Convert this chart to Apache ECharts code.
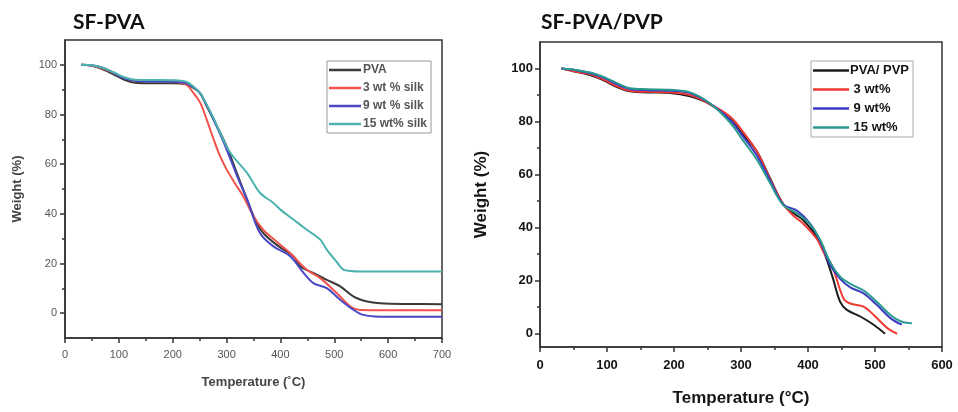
<!DOCTYPE html>
<html>
<head>
<meta charset="utf-8">
<script src="https://cdn.jsdelivr.net/npm/echarts@6/dist/echarts.min.js"></script>
<style>
  html, body { margin: 0; padding: 0; background: #fff; }
  #chart { width: 958px; height: 412px; }
</style>
</head>
<body>
<div id="chart"></div>
<script>
// ---- SF-PVA panel: TGA curves (temperature in °C, weight in %) ----
const pvaTemp   = [30, 50, 70, 90, 110, 130, 160, 200, 225, 240, 251, 263, 282, 300, 319, 338, 356, 368, 393, 424, 437, 461, 486, 511, 536, 561, 585, 640, 700];
const pvaWeight = [100, 99.6, 98.2, 96.2, 94, 92.8, 92.6, 92.6, 92.2, 90.5, 88.5, 83.4, 75.4, 67.3, 56.5, 45.8, 36.3, 32.3, 27.5, 22.9, 18.8, 16.2, 13.4, 10.8, 6.7, 4.7, 4, 3.7, 3.6];

const silk3Temp   = [30, 50, 70, 90, 110, 130, 160, 200, 225, 238, 251, 263, 276, 288, 300, 319, 331, 350, 368, 393, 418, 449, 474, 505, 530, 548, 600, 700];
const silk3Weight = [100, 99.6, 98.5, 96.8, 94.8, 93.6, 93.5, 93.2, 92, 88.8, 84.8, 78, 70, 63.2, 57.9, 51.1, 47.1, 39, 33.6, 28.8, 24.2, 17.5, 14.1, 8, 2.7, 1.3, 1.2, 1.2];

const silk9Temp   = [30, 50, 70, 90, 110, 130, 160, 200, 225, 240, 251, 263, 282, 300, 319, 338, 362, 387, 418, 443, 461, 486, 511, 536, 554, 585, 640, 700];
const silk9Weight = [100, 99.8, 98.8, 96.8, 94.6, 93.6, 93.3, 93.2, 92.6, 90.8, 88.5, 83.8, 75, 66, 55.5, 45.8, 32.3, 26.9, 22.9, 16.2, 12.1, 10.1, 5.4, 1.3, -0.7, -1.4, -1.4, -1.4];

const silk15Temp   = [30, 50, 70, 90, 110, 130, 160, 200, 225, 240, 251, 263, 276, 288, 307, 338, 362, 387, 400, 424, 449, 474, 486, 505, 517, 530, 548, 600, 700];
const silk15Weight = [100, 99.8, 98.8, 97, 95, 94, 93.9, 93.8, 93.2, 91, 88.6, 84, 78.5, 72.7, 64.6, 56.5, 48.5, 44.4, 41.7, 37.7, 33.6, 29.6, 25.6, 20.5, 17.5, 17, 16.8, 16.8, 16.8];

// ---- SF-PVA/PVP panel ----
const pvpTemp   = [32, 50, 75, 95, 115, 134, 160, 194, 224, 254, 284, 304, 324, 343, 363, 378, 393, 413, 425, 436, 448, 458, 478, 498, 515];
const pvpWeight = [100, 99, 97.5, 95.5, 93, 91.4, 91, 90.8, 89.5, 86.5, 80.9, 74.8, 68.6, 58.8, 48.9, 45.5, 42.8, 36.6, 30, 21.9, 12, 9, 6.5, 3.4, 0];

const pvp3Temp   = [32, 50, 75, 95, 115, 134, 160, 194, 224, 254, 284, 304, 324, 343, 363, 378, 393, 413, 425, 436, 453, 463, 483, 498, 518, 533];
const pvp3Weight = [100, 99, 97.8, 95.8, 93.3, 91.6, 91.2, 91, 90, 86.6, 81.8, 75.8, 68.6, 58.5, 48.8, 44.6, 41.5, 35.8, 30, 25.6, 13.3, 11.4, 10.2, 7.1, 2.2, 0];

const pvp9Temp   = [32, 50, 75, 95, 115, 134, 160, 194, 224, 254, 284, 304, 324, 343, 363, 383, 403, 418, 433, 448, 463, 483, 503, 523, 540];
const pvp9Weight = [100, 99.5, 98.2, 96.5, 94, 92.3, 91.8, 91.6, 90.8, 86.8, 80.5, 74, 67, 58, 48.8, 46.5, 41.5, 35, 26, 20.7, 17.5, 15.2, 10.8, 5.9, 3.4];

const pvp15Temp   = [32, 50, 75, 95, 115, 134, 160, 194, 224, 254, 284, 304, 324, 343, 363, 383, 403, 418, 433, 448, 463, 483, 503, 523, 540, 555];
const pvp15Weight = [100, 99.6, 98.5, 96.8, 94.5, 92.6, 92.2, 92, 91, 86.8, 79.5, 72.5, 65.5, 57, 48.5, 45.5, 41.3, 35.5, 27, 21.5, 18.8, 16.3, 12, 7.1, 4.5, 4];

// axis tick values
const weightLabels  = [0, 20, 40, 60, 80, 100];
const weightMinorL  = [10, 30, 50, 70, 90];

const pair = (xs, ys) => xs.map((x, i) => [x, ys[i]]);

const SANS = '"Liberation Sans", Arial, sans-serif';
const leftColors  = ['#3a3a3a', '#f2524c', '#4a48c4', '#4cb2ae'];
const rightColors = ['#1c1c1c', '#f03a32', '#3b3cc2', '#2a9a8e'];

function lineSeries(name, data, color, xi, yi) {
  return {
    name, type: 'line', data, smooth: 0.35, showSymbol: false, symbol: 'none',
    xAxisIndex: xi, yAxisIndex: yi, color,
    lineStyle: { width: 2, color }, emphasis: { disabled: true }, z: 3
  };
}

function xAxisDef(grid, max, labelStyle, name, nameStyle, nameGap, margin) {
  return {
    type: 'value', gridIndex: grid, min: 0, max, interval: 100,
    axisLine: { show: true, onZero: false, lineStyle: { color: '#333', width: 1.5 } },
    axisTick: { show: true, inside: false, length: 5, lineStyle: { color: '#333', width: 1.5 } },
    minorTick: { show: true, splitNumber: 2, length: 3, lineStyle: { color: '#333', width: 1.5 } },
    splitLine: { show: false },
    axisLabel: Object.assign({ margin }, labelStyle),
    name, nameLocation: 'middle', nameGap, nameTextStyle: nameStyle
  };
}

function yAxesDef(grid, min, labelStyle, name, nameStyle, nameGap, margin) {
  return [{
    type: 'value', gridIndex: grid, min, max: 110, position: 'left',
    axisLine: { show: true, onZero: false, lineStyle: { color: '#333', width: 1.5 } },
    axisTick: { show: true, inside: false, length: 5, customValues: weightLabels, lineStyle: { color: '#333', width: 1.5 } },
    splitLine: { show: false },
    axisLabel: Object.assign({ margin, customValues: weightLabels }, labelStyle),
    name, nameLocation: 'middle', nameGap, nameRotate: 90, nameTextStyle: nameStyle
  }, {
    type: 'value', gridIndex: grid, min, max: 110, position: 'left',
    axisLine: { show: false },
    axisTick: { show: true, inside: false, length: 3, customValues: weightMinorL, lineStyle: { color: '#333', width: 1.5 } },
    splitLine: { show: false },
    axisLabel: { show: false }
  }];
}

const leftLabel  = { fontFamily: SANS, fontSize: 11, color: '#555' };
const rightLabel = { fontFamily: SANS, fontSize: 13, fontWeight: 'bold', color: '#151515' };
const leftName   = { fontFamily: SANS, fontSize: 13, fontWeight: 'bold', color: '#444' };
const rightName  = { fontFamily: SANS, fontSize: 17, fontWeight: 'bold', color: '#151515' };

const leftNames  = ['PVA', '3 wt % silk', '9 wt % silk', '15 wt% silk'];
const rightNames = ['PVA/ PVP', '3 wt%', '9 wt%', '15 wt%'];

const titleStyle = { fontFamily: 'Lato, "Noto Sans", sans-serif', fontSize: 21, fontWeight: 'bold', color: '#111' };

const option = {
  animation: false,
  backgroundColor: '#fff',
  title: [
    { text: 'SF-PVA', left: 73, top: 12, padding: 0, textStyle: titleStyle },
    { text: 'SF-PVA/PVP', left: 541, top: 12, padding: 0, textStyle: titleStyle }
  ],
  grid: [
    { left: 65, top: 40, right: 516, bottom: 74, show: true, borderColor: '#333', borderWidth: 1.5, backgroundColor: 'transparent' },
    { left: 540, top: 42, right: 16, bottom: 60, show: true, borderColor: '#333', borderWidth: 1.5, backgroundColor: 'transparent' }
  ],
  legend: [
    {
      data: leftNames, orient: 'vertical', left: 327, top: 61, icon: 'rect',
      itemWidth: 32, itemHeight: 2.5, itemGap: 6, padding: [3, 4, 3, 2],
      borderColor: '#999', borderWidth: 1, selectedMode: false,
      textStyle: { fontFamily: SANS, fontSize: 12, fontWeight: 'bold', color: '#555', padding: [0, 0, 0, -3] }
    },
    {
      data: rightNames, orient: 'vertical', left: 811, top: 61, icon: 'rect',
      itemWidth: 36, itemHeight: 2.5, itemGap: 6, padding: [3, 4, 3, 2],
      borderColor: '#aaa', borderWidth: 1, selectedMode: false,
      formatter: n => (n === 'PVA/ PVP' ? n : ' ' + n),
      textStyle: { fontFamily: SANS, fontSize: 13, fontWeight: 'bold', color: '#151515', padding: [0, 0, 0, -4] }
    }
  ],
  xAxis: [
    xAxisDef(0, 700, leftLabel, 'Temperature (˚C)', leftName, 38, 11),
    xAxisDef(1, 600, rightLabel, 'Temperature (°C)', rightName, 43, 12)
  ],
  yAxis: [
    ...yAxesDef(0, -10, leftLabel, 'Weight (%)', leftName, 41, 8),
    ...yAxesDef(1, -5, rightLabel, 'Weight (%)', rightName, 50, 7)
  ],
  series: [
    lineSeries(leftNames[0], pair(pvaTemp, pvaWeight), leftColors[0], 0, 0),
    lineSeries(leftNames[1], pair(silk3Temp, silk3Weight), leftColors[1], 0, 0),
    lineSeries(leftNames[2], pair(silk9Temp, silk9Weight), leftColors[2], 0, 0),
    lineSeries(leftNames[3], pair(silk15Temp, silk15Weight), leftColors[3], 0, 0),
    lineSeries(rightNames[0], pair(pvpTemp, pvpWeight), rightColors[0], 1, 2),
    lineSeries(rightNames[1], pair(pvp3Temp, pvp3Weight), rightColors[1], 1, 2),
    lineSeries(rightNames[2], pair(pvp9Temp, pvp9Weight), rightColors[2], 1, 2),
    lineSeries(rightNames[3], pair(pvp15Temp, pvp15Weight), rightColors[3], 1, 2)
  ]
};

const chart = echarts.init(document.getElementById('chart'), null, { renderer: 'canvas' });
chart.setOption(option);
</script>
</body>
</html>
